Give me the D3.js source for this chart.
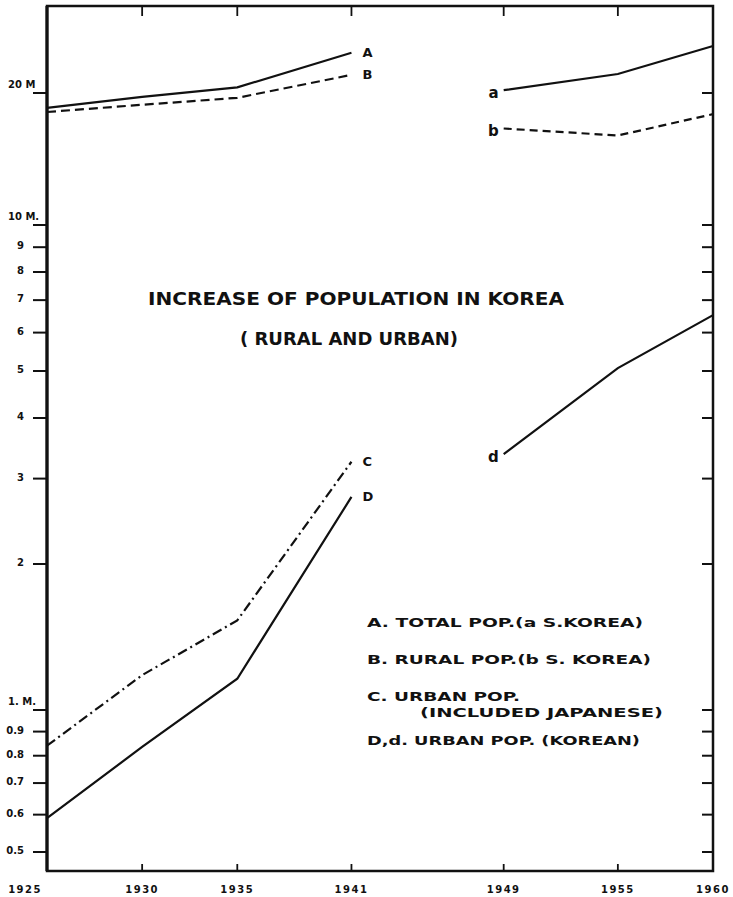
<!DOCTYPE html>
<html>
<head>
<meta charset="utf-8">
<script src="https://cdn.jsdelivr.net/npm/d3@7"></script>
<style>
body { margin: 0; background: #fff; }
text { font-family: "DejaVu Sans", sans-serif; font-weight: bold; fill: #111; }
</style>
</head>
<body>
<div id="chart"></div>
<script>
// data (millions)
var yearsPre = [1925, 1930, 1935, 1941];
var yearsSouth = [1949, 1955, 1960];
var totalPop = [18.5, 19.6, 20.6, 24.7];      // A
var ruralPop = [18.1, 18.8, 19.5, 22.0];      // B
var urbanPopJp = [0.84, 1.18, 1.53, 3.25];    // C
var urbanPopKr = [0.59, 0.835, 1.16, 2.75];   // D
var totalPopS = [20.3, 22.1, 25.6];           // a
var ruralPopS = [16.6, 16.0, 17.9];           // b
var urbanPopS = [3.37, 5.07, 6.52];           // d

var xTicks = [1925, 1930, 1935, 1941, 1949, 1955, 1960];
var yTicks = [0.5, 0.6, 0.7, 0.8, 0.9, 1, 2, 3, 4, 5, 6, 7, 8, 9, 10, 20];
var yTickLabels = ["0.5", "0.6", "0.7", "0.8", "0.9", "1. M.", "2", "3", "4", "5", "6", "7", "8", "9", "10 M.", "20 M"];
var legendLines = ["A.  TOTAL POP.(a  S.KOREA)", "B.  RURAL POP.(b S. KOREA)", "C.  URBAN POP.", "(INCLUDED JAPANESE)", "D,d. URBAN POP. (KOREAN)"];

var W = 733, H = 897;
var padL = 47, padR = 713, padT = 6, padB = 871;

var svg = d3.select("#chart").append("svg").attr("width", W).attr("height", H);

var x = d3.scaleLinear().domain([1925, 1960]).range([padL, padR]);
// hand drawn log paper: upper decade is a bit compressed
var y = d3.scaleLog().domain([0.5, 1, 10, 20]).range([852, 710, 225, 93]);

// frame
svg.append("path").attr("fill", "none").attr("stroke", "#111").attr("stroke-width", 2.5)
	.attr("d", "M" + padL + "," + padT + " L" + padR + "," + padT + " L" + padR + "," + padB + " L" + padL + "," + padB + " Z");
svg.append("path").attr("stroke", "#111").attr("stroke-width", 3.2)
	.attr("d", "M" + padL + "," + padT + " L" + padL + "," + padB);

// x ticks, top and bottom, pointing inward
var inner = xTicks.slice(1, xTicks.length - 1);
svg.selectAll(".xt-top").data(inner).enter().append("line")
	.attr("x1", function(d) { return x(d); }).attr("x2", function(d) { return x(d); })
	.attr("y1", padT).attr("y2", padT + 10)
	.attr("stroke", "#111").attr("stroke-width", 1.8);
svg.selectAll(".xt-bot").data(inner).enter().append("line")
	.attr("x1", function(d) { return x(d); }).attr("x2", function(d) { return x(d); })
	.attr("y1", padB).attr("y2", padB - 7)
	.attr("stroke", "#111").attr("stroke-width", 1.8);
svg.selectAll(".xl").data(xTicks).enter().append("text")
	.attr("x", function(d, i) { return i == 0 ? x(d) - 5 : x(d); })
	.attr("y", 893)
	.attr("text-anchor", function(d, i) { return i == 0 ? "end" : "middle"; })
	.attr("font-size", 10).attr("letter-spacing", 1.5)
	.text(function(d) { return d; });

// y ticks: left outward, right inward
svg.selectAll(".yt-l").data(yTicks).enter().append("line")
	.attr("x1", padL - 14).attr("x2", padL)
	.attr("y1", function(d) { return y(d); }).attr("y2", function(d) { return y(d); })
	.attr("stroke", "#111").attr("stroke-width", 2);
svg.selectAll(".yt-r").data(yTicks).enter().append("line")
	.attr("x1", padR - 11).attr("x2", padR)
	.attr("y1", function(d) { return y(d); }).attr("y2", function(d) { return y(d); })
	.attr("stroke", "#111").attr("stroke-width", 2);
svg.selectAll(".yl").data(yTicks).enter().append("text")
	.attr("x", function(d, i) { return yTickLabels[i].indexOf("M") >= 0 ? 8 : 24; })
	.attr("y", function(d, i) { return yTickLabels[i].indexOf("M") >= 0 ? y(d) - 5 : y(d) + 2; })
	.attr("text-anchor", function(d, i) { return yTickLabels[i].indexOf("M") >= 0 ? "start" : "end"; })
	.attr("font-size", 10)
	.text(function(d, i) { return yTickLabels[i]; });

// series
var series = [
	{ name: "A", years: yearsPre, vals: totalPop, dash: null, at: "end" },
	{ name: "B", years: yearsPre, vals: ruralPop, dash: "9,5", at: "end" },
	{ name: "C", years: yearsPre, vals: urbanPopJp, dash: "10,4,2,4", at: "end" },
	{ name: "D", years: yearsPre, vals: urbanPopKr, dash: null, at: "end" },
	{ name: "a", years: yearsSouth, vals: totalPopS, dash: null, at: "start" },
	{ name: "b", years: yearsSouth, vals: ruralPopS, dash: "8,5", at: "start" },
	{ name: "d", years: yearsSouth, vals: urbanPopS, dash: null, at: "start" }
];

var line = d3.line()
	.x(function(d) { return x(d[0]); })
	.y(function(d) { return y(d[1]); });

series.forEach(function(s) {
	var pts = s.years.map(function(yr, i) { return [yr, s.vals[i]]; });
	svg.append("path").attr("fill", "none").attr("stroke", "#111").attr("stroke-width", 2.2)
		.attr("stroke-dasharray", s.dash)
		.attr("d", line(pts));
	var p = s.at == "end" ? pts[pts.length - 1] : pts[0];
	svg.append("text")
		.attr("x", s.at == "end" ? x(p[0]) + 11 : x(p[0]) - 5)
		.attr("y", y(p[1]) + (s.at == "end" ? 4 : 8))
		.attr("text-anchor", s.at == "end" ? "start" : "end")
		.attr("font-size", s.at == "end" ? 13 : 15)
		.text(s.name);
});

// title
svg.append("text").attr("x", 148).attr("y", 305).attr("font-size", 18)
	.attr("textLength", 416).attr("lengthAdjust", "spacingAndGlyphs")
	.text("INCREASE OF POPULATION IN KOREA");
svg.append("text").attr("x", 240).attr("y", 345).attr("font-size", 18)
	.attr("textLength", 218).attr("lengthAdjust", "spacingAndGlyphs")
	.text("( RURAL AND URBAN)");

// legend
var legX = [367, 367, 367, 420, 367];
var legY = [627, 664, 701, 717, 745];
var legLen = [276, 284, 153, 243, 273];
svg.selectAll(".leg").data(legendLines).enter().append("text")
	.attr("x", function(d, i) { return legX[i]; })
	.attr("y", function(d, i) { return legY[i]; })
	.attr("font-size", 12.5)
	.attr("textLength", function(d, i) { return legLen[i]; })
	.attr("lengthAdjust", "spacingAndGlyphs")
	.text(function(d) { return d; });
</script>
</body>
</html>
